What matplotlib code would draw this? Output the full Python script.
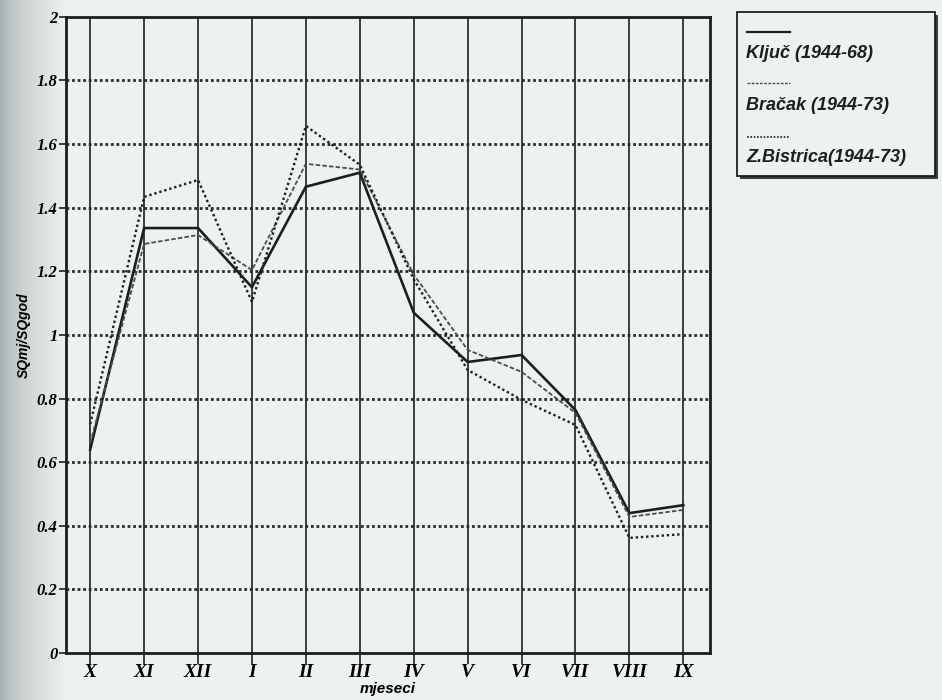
import numpy as np
import matplotlib
matplotlib.use("Agg")
import matplotlib.pyplot as plt
from matplotlib.patches import Rectangle
from matplotlib.lines import Line2D

# Monthly coefficients SQmj/SQgod, hydrological year X..IX
months = ["X", "XI", "XII", "I", "II", "III", "IV", "V", "VI", "VII", "VIII", "IX"]
kljuc = [0.64, 1.336, 1.336, 1.15, 1.466, 1.51, 1.07, 0.915, 0.937, 0.764, 0.44, 0.465]
bracak = [0.66, 1.286, 1.314, 1.204, 1.538, 1.52, 1.19, 0.953, 0.884, 0.755, 0.428, 0.45]
bistrica = [0.72, 1.434, 1.487, 1.104, 1.657, 1.535, 1.175, 0.89, 0.796, 0.717, 0.362, 0.374]
series_names = ["Ključ (1944-68)", "Bračak (1944-73)", "Z.Bistrica(1944-73)"]
y_ticks = [0, 0.2, 0.4, 0.6, 0.8, 1.0, 1.2, 1.4, 1.6, 1.8, 2.0]
y_tick_labels = ["0", "0.2", "0.4", "0.6", "0.8", "1", "1.2", "1.4", "1.6", "1.8", "2"]

paper = "#edf1ef"
ink = "#1c1f1e"

fig = plt.figure(figsize=(9.42, 7.0), dpi=100)
fig.patch.set_facecolor(paper)

# scanner shading along the left edge of the page
bg = fig.add_axes([0, 0, 1, 1], zorder=-5)
grad = np.linspace(0, 1, 942)
shade = np.clip(grad / 0.07, 0, 1) ** 0.6
base = np.array([0xed, 0xf1, 0xef]) / 255.0
dark = np.array([0.64, 0.68, 0.68])
img = dark[None, :] * (1 - shade[:, None]) + base[None, :] * shade[:, None]
bg.imshow(img[None, :, :], aspect="auto", extent=[0, 1, 0, 1])
bg.set_axis_off()

ax = fig.add_axes([0.070, 0.067, 0.684, 0.909])
ax.set_facecolor("none")
x = np.arange(len(months))

ax.plot(x, kljuc, color=ink, lw=1.9, ls="-", zorder=4)
ax.plot(x, bracak, color="#4a4d4c", lw=1.3, ls=(0, (2.5, 1.2)), zorder=4)
ax.plot(x, bistrica, color=ink, lw=1.7, ls=(0, (1, 1.2)), zorder=4)

ax.set_xlim(-0.45, 11.5)
ax.set_ylim(0, 2)
ax.set_xticks(x)
ax.set_xticklabels(months, family="Liberation Serif", style="italic",
                   weight="bold", fontsize=14)
ax.set_yticks(y_ticks)
ax.set_yticklabels(y_tick_labels, family="Liberation Serif", style="italic",
                   weight="bold", fontsize=12)
ax.tick_params(axis="x", length=8, width=1.2, color=ink, pad=0)
ax.tick_params(axis="y", length=5, width=1.2, color=ink, pad=1)

for v in x:
    ax.axvline(v, color=ink, lw=1.2, zorder=1)
for v in y_ticks[1:-1]:
    ax.axhline(v, color="#2a2d22", lw=2.0, ls=(0, (1, 1)), zorder=1)

for s in ax.spines.values():
    s.set_linewidth(2.0)
    s.set_color(ink)

ax.set_xlabel("mjeseci", family="Liberation Sans", style="italic",
              weight="bold", fontsize=11)
ax.xaxis.set_label_coords(0.5, -0.0455)
ax.set_ylabel("SQmj/SQgod", family="Liberation Sans", style="italic",
              weight="bold", fontsize=10, labelpad=4)

# legend box with line samples above each name
W, H = 942.0, 700.0
def fx(px):
    return px / W
def fy(py):
    return 1 - py / H

box = Rectangle((fx(737), fy(176)), fx(935) - fx(737), fy(12) - fy(176),
                transform=fig.transFigure, facecolor=paper, edgecolor=ink,
                lw=1.3, zorder=10)
shadow = Rectangle((fx(740), fy(179)), fx(935) - fx(737), fy(12) - fy(176),
                   transform=fig.transFigure, facecolor="#3a3d3c",
                   edgecolor="none", zorder=9)
fig.patches.extend([shadow, box])

styles = [dict(color=ink, lw=1.6, ls="-"),
          dict(color="#4a4d4c", lw=1.0, ls=(0, (2, 1))),
          dict(color=ink, lw=1.2, ls=(0, (1, 1)))]
sample_y = [32, 83, 137]
text_y = [53, 106, 157]
for name, st, sy, ty in zip(series_names, styles, sample_y, text_y):
    fig.add_artist(Line2D([fx(747), fx(790)], [fy(sy), fy(sy)],
                          transform=fig.transFigure, zorder=11, **st))
    fig.text(fx(746), fy(ty), name, family="Liberation Sans", style="italic",
             weight="bold", fontsize=13, color=ink, va="center", ha="left",
             zorder=12)

fig.savefig("out.png", dpi=100, facecolor=fig.get_facecolor())
